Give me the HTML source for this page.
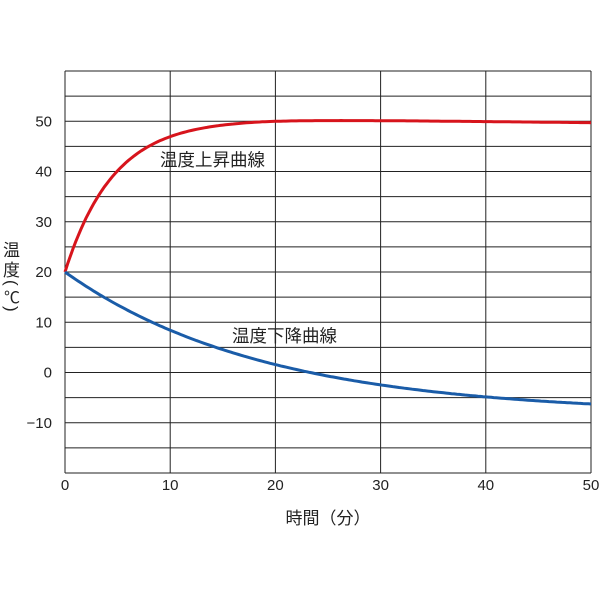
<!DOCTYPE html>
<html><head><meta charset="utf-8"><style>
body{margin:0;background:#fff;}
svg text{font-family:"Liberation Sans","Noto Sans CJK JP",sans-serif;fill:#222;}
</style></head><body>
<svg id="s" width="600" height="600" xmlns="http://www.w3.org/2000/svg">
<g id="grid" stroke="#222" stroke-width="1"></g>
<path id="red" fill="none" stroke="#d7141c" stroke-width="3"/>
<path id="blue" fill="none" stroke="#1a5ca8" stroke-width="3"/>
<g font-size="15" text-anchor="end" id="yl"></g>
<g font-size="15" text-anchor="middle" id="xl"></g>
<text x="160" y="166" font-size="17.5">温度上昇曲線</text>
<text x="232" y="342" font-size="17.5">温度下降曲線</text>
<text x="328" y="524" font-size="17" text-anchor="middle">時間（分）</text>
<text x="3" y="256" font-size="17">温</text>
<text x="3" y="276" font-size="17">度</text>
<text font-size="17" transform="translate(6,280) rotate(90)">(</text>
<text x="4" y="303" font-size="16">℃</text>
<text font-size="17" transform="translate(6,306) rotate(90)">)</text>
</svg>
<script>
var X=t=>65+t*10.52, Y=v=>272-(v-20)*5.025;
var g=document.getElementById('grid'),h='';
for(var v=-20;v<=60;v+=5)h+='<line x1="65" x2="591" y1="'+Y(v)+'" y2="'+Y(v)+'"/>';
for(var t=0;t<=50;t+=10)h+='<line y1="'+Y(60)+'" y2="'+Y(-20)+'" x1="'+X(t)+'" x2="'+X(t)+'"/>';
g.innerHTML=h;
var yl='';[50,40,30,20,10,0,-10].forEach(v=>yl+='<text x="52" y="'+(Y(v)+5)+'">'+(v<0?'−10':v)+'</text>');
document.getElementById('yl').innerHTML=yl;
var xl='';for(var t=0;t<=50;t+=10)xl+='<text x="'+X(t)+'" y="490">'+t+'</text>';
document.getElementById('xl').innerHTML=xl;
var r='',b='';
for(var t=0;t<=50;t+=0.25){
 var rv=20+30.4*(1-Math.exp(-t/4.6)); if(t>19)rv-= (t-19)*0.022;
 var bv=-8.3+28.3*Math.exp(-t/19);
 r+=(t?'L':'M')+X(t).toFixed(1)+' '+Y(rv).toFixed(1);
 b+=(t?'L':'M')+X(t).toFixed(1)+' '+Y(bv).toFixed(1);
}
document.getElementById('red').setAttribute('d',r);
document.getElementById('blue').setAttribute('d',b);
</script>
</body></html>
